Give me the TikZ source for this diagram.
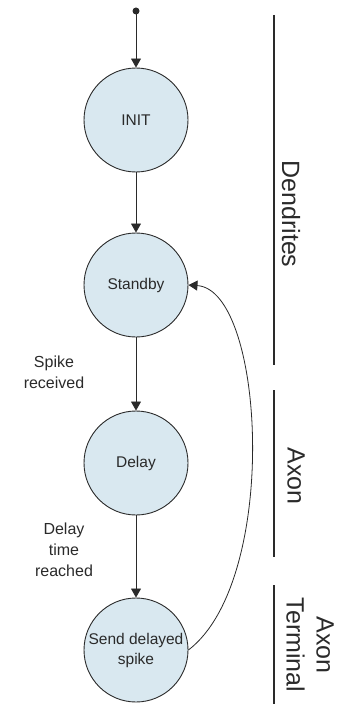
\documentclass[tikz,border=0pt]{standalone}
\usepackage{fontspec}
\setmainfont{Liberation Sans}
\usetikzlibrary{arrows.meta}
\definecolor{statefill}{HTML}{D9E8F0}
\definecolor{ink}{HTML}{2A2A2A}
\tikzset{
  state/.style={circle, draw=ink, line width=0.9pt, fill=statefill, minimum size=104pt, inner sep=0pt, align=center, text=ink, font=\fontsize{15.5}{20}\selectfont},
  trans/.style={draw=ink, line width=0.8pt, -{Triangle[length=9pt,width=10pt]}},
  lbl/.style={align=center, text=ink, font=\fontsize{16}{21}\selectfont},
  region/.style={rotate=-90, align=center, text=ink, font=\fontsize{25}{30}\selectfont},
  sep/.style={draw=ink, line width=2pt}
}
\begin{document}
\begin{tikzpicture}[x=1pt,y=-1pt]
\useasboundingbox (0,0) rectangle (339,706);
\fill[ink] (136,11) circle (3.5pt);
\coordinate (start) at (136,11);
\node[state] (init) at (136,120) {INIT};
\node[state] (standby) at (136,285) {Standby};
\node[state] (delay) at (136,463) {Delay};
\node[state] (send) at (136,650) {Send delayed\\spike};
\draw[trans] (start) -- (init);
\draw[trans] (init) -- (standby);
\draw[trans] (standby) -- (delay);
\draw[trans] (delay) -- (send);
\draw[trans] (send.east) .. controls (280,580) and (265,290) .. (standby.east);
\node[lbl] (spike) at (54,372) {Spike\\received};
\node[lbl] (reached) at (64,550) {Delay\\time\\reached};
\coordinate (l1a) at (274,15); \coordinate (l1b) at (274,365);
\coordinate (l2a) at (274,390); \coordinate (l2b) at (274,557);
\coordinate (l3a) at (274,585); \coordinate (l3b) at (274,704);
\draw[sep] (l1a) -- (l1b);
\draw[sep] (l2a) -- (l2b);
\draw[sep] (l3a) -- (l3b);
\node[region] (dend) at (291,214) {Dendrites};
\node[region] (axon) at (296,476) {Axon};
\node[region] (term) at (310,645) {Axon\\Terminal};
\end{tikzpicture}
\end{document}
